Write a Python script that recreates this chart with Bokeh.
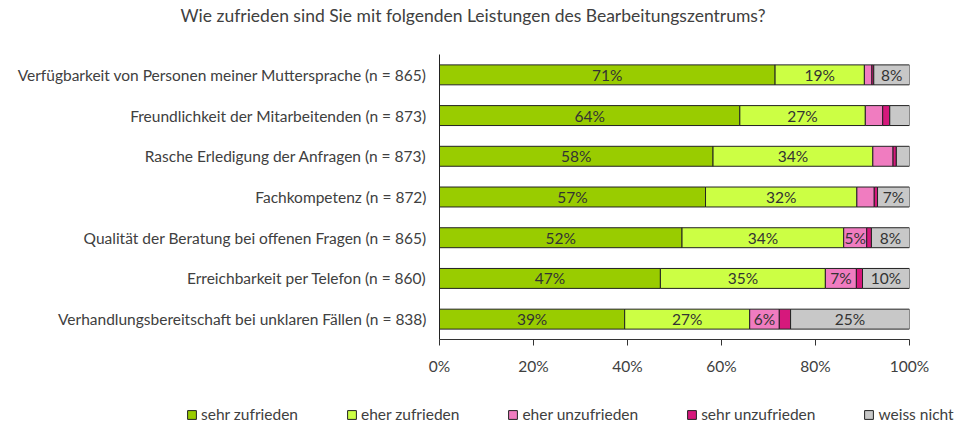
from bokeh.plotting import figure
from bokeh.layouts import column, row
from bokeh.models import (ColumnDataSource, FactorRange, Range1d, FixedTicker,
                          PrintfTickFormatter, Legend, LegendItem, Title)
from bokeh.core.properties import value
from bokeh.embed import file_html
from bokeh.resources import INLINE

title = "Wie zufrieden sind Sie mit folgenden Leistungen des Bearbeitungszentrums?"

categories = [
    "Verfügbarkeit von Personen meiner Muttersprache (n = 865)",
    "Freundlichkeit der Mitarbeitenden (n = 873)",
    "Rasche Erledigung der Anfragen (n = 873)",
    "Fachkompetenz (n = 872)",
    "Qualität der Beratung bei offenen Fragen (n = 865)",
    "Erreichbarkeit per Telefon (n = 860)",
    "Verhandlungsbereitschaft bei unklaren Fällen (n = 838)",
]

series_names = ["sehr zufrieden", "eher zufrieden", "eher unzufrieden",
                "sehr unzufrieden", "weiss nicht"]

sehr_zufrieden = [71.4, 63.9, 58.2, 56.6, 51.6, 47.0, 39.4]
eher_zufrieden = [19.0, 26.7, 34.0, 32.2, 34.4, 35.1, 26.6]
eher_unzufrieden = [1.6, 3.7, 4.3, 3.7, 4.9, 6.6, 6.3]
sehr_unzufrieden = [0.4, 1.5, 0.7, 0.7, 1.0, 1.3, 2.4]
weiss_nicht = [7.6, 4.2, 2.8, 6.8, 8.1, 10.0, 25.3]

colors = ["#99CC00", "#CCFF44", "#F07CC0", "#D6187C", "#C8C8C8"]

x_ticks = [0, 20, 40, 60, 80, 100]

FONT = "Lato"
TEXT_COLOR = "#404040"
FS = "15.5px"
EDGE = "#222222"

keys = ["s0", "s1", "s2", "s3", "s4"]
series = [sehr_zufrieden, eher_zufrieden, eher_unzufrieden, sehr_unzufrieden, weiss_nicht]
data = {"cat": categories}
for k, s in zip(keys, series):
    data[k] = s
source = ColumnDataSource(data)

p = figure(width=973, height=395, output_backend="svg", toolbar_location=None,
           y_range=FactorRange(factors=list(reversed(categories))),
           x_range=Range1d(0, 100),
           min_border_left=439, min_border_right=64,
           min_border_top=54, min_border_bottom=56)
p.outline_line_color = None
p.xgrid.visible = False
p.ygrid.visible = False

# real title, with a blank spacer title between it and the frame
p.title.text = title
p.title.align = "left"
p.title.offset = -259
p.title.standoff = 0
p.title.text_font = FONT
p.title.text_font_size = "17.5px"
p.title.text_font_style = "normal"
p.title.text_color = TEXT_COLOR
p.add_layout(Title(text=" ", standoff=8, text_font=FONT,
                   text_font_size="16px"), "above")

renderers = p.hbar_stack(keys, y="cat", height=0.49, source=source,
                         color=colors, line_color=EDGE, line_width=1)
for r, c in zip(renderers, colors):
    r.glyph.fill_color = c
    r.glyph.line_color = EDGE

# segment labels
lx, ly, lt = [], [], []
for i, cat in enumerate(categories):
    start = 0.0
    for s in series:
        v = s[i]
        if round(v) >= 5:
            lx.append(start + v / 2)
            ly.append(cat)
            lt.append(f"{round(v)}%")
        start += v
p.text(x=lx, y=ly, text=lt, text_align="center", text_baseline="middle",
       text_font=value(FONT), text_font_size=FS, text_color="#333333")

# axes
p.xaxis.ticker = FixedTicker(ticks=x_ticks)
p.xaxis.formatter = PrintfTickFormatter(format="%d%%")
p.xaxis.major_tick_out = 6
p.xaxis.major_tick_in = 0
p.xaxis.minor_tick_line_color = None
p.xaxis.major_label_standoff = 11
p.xaxis.axis_line_color = "#333333"
p.xaxis.major_tick_line_color = "#333333"
p.xaxis.major_label_text_font = FONT
p.xaxis.major_label_text_font_size = FS
p.xaxis.major_label_text_color = TEXT_COLOR

p.yaxis.major_tick_line_color = None
p.yaxis.major_tick_out = 0
p.yaxis.major_tick_in = 0
p.yaxis.minor_tick_line_color = None
p.yaxis.major_label_standoff = 13
p.yaxis.axis_line_color = EDGE
p.yaxis.major_label_text_font = FONT
p.yaxis.major_label_text_font_size = FS
p.yaxis.major_label_text_color = TEXT_COLOR

# legend strip (separate figure spanning the full width)
lg = figure(width=973, height=33, output_backend="svg", toolbar_location=None,
            x_range=Range1d(0, 1), y_range=Range1d(0, 1),
            x_axis_location=None, y_axis_location=None, min_border=0)
lg.outline_line_color = None
lg.xgrid.visible = False
lg.ygrid.visible = False
legend_renderers = [lg.hbar(y=[-10], left=[0], right=[1], height=0.5,
                            fill_color=c, line_color=EDGE)
                    for c in colors]
legend = Legend(items=[LegendItem(label=n, renderers=[r])
                       for n, r in zip(series_names, legend_renderers)],
                orientation="horizontal", location=(186, 5),
                glyph_width=11, glyph_height=11, label_standoff=4,
                spacing=48, padding=0, margin=0,
                label_text_font=FONT, label_text_font_size=FS,
                label_text_color=TEXT_COLOR,
                border_line_color=None, background_fill_alpha=0)
lg.add_layout(legend)

layout = column(p, row(lg), spacing=0)
open("out.html", "w").write(file_html(layout, INLINE))
